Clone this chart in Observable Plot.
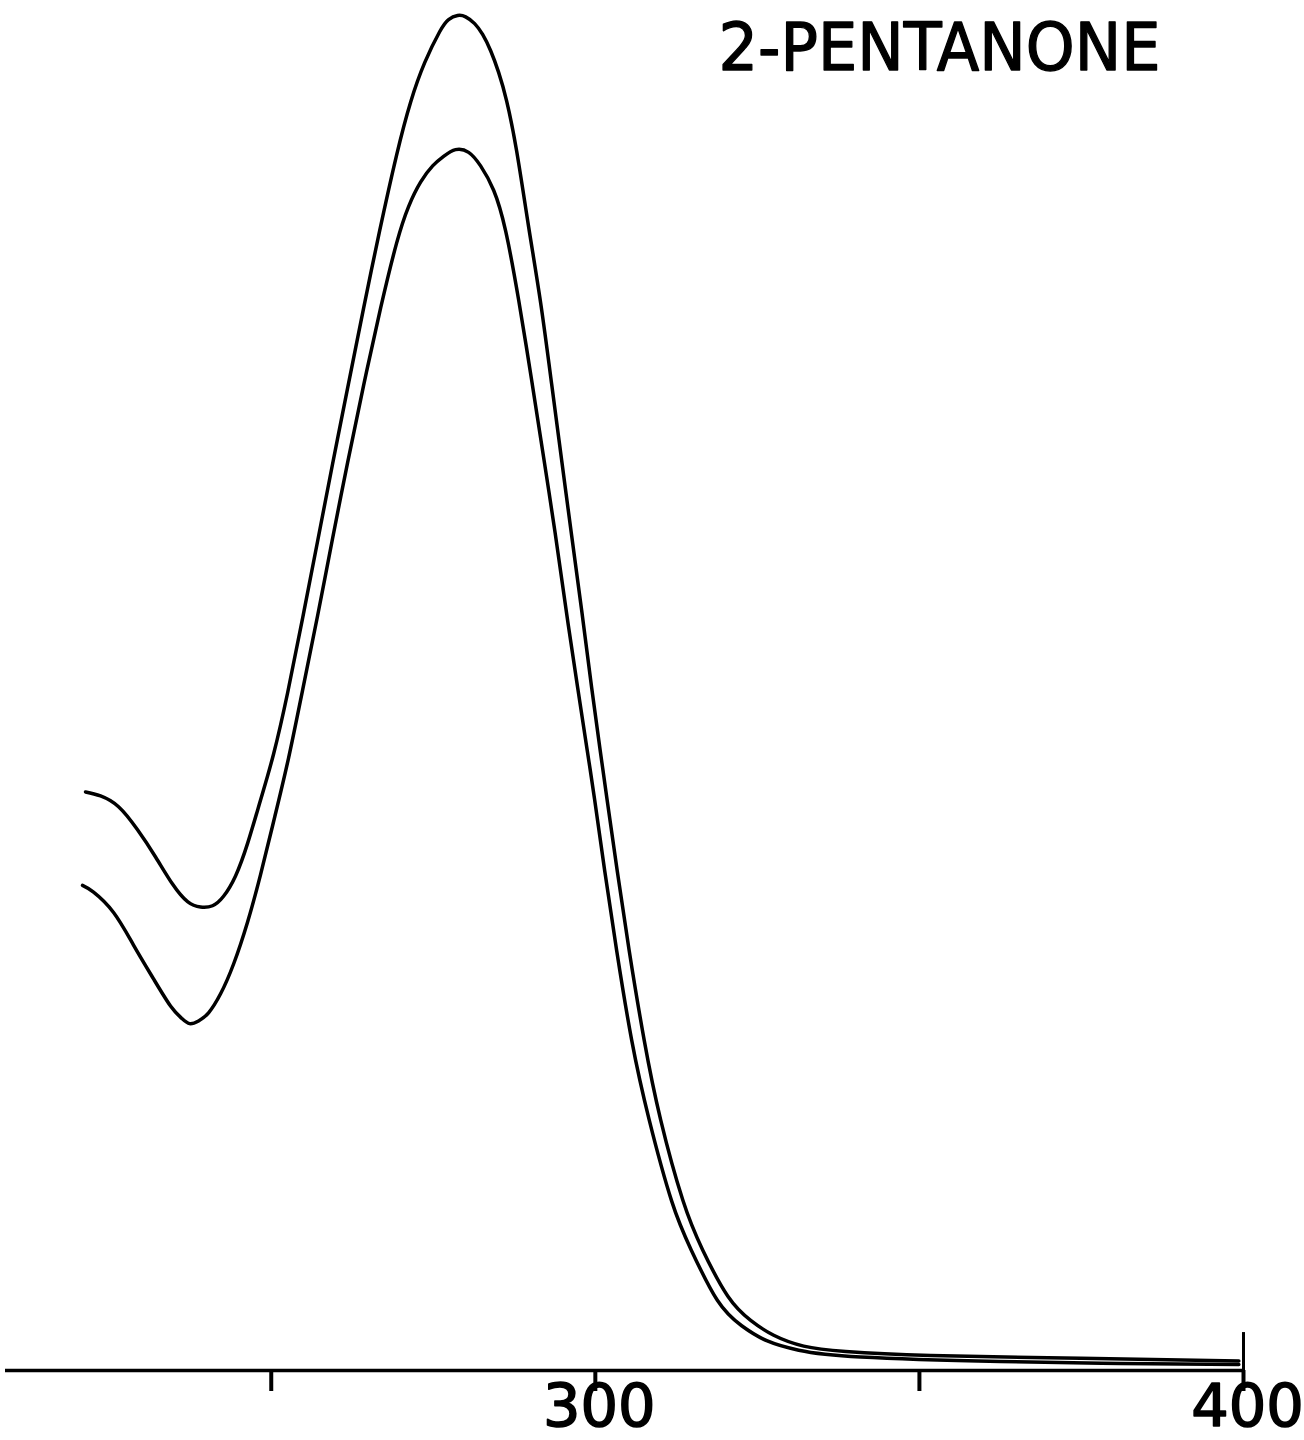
<!DOCTYPE html>
<html>
<head>
<meta charset="utf-8">
<script src="https://cdn.jsdelivr.net/npm/d3@7"></script>
<script src="https://cdn.jsdelivr.net/npm/@observablehq/plot@0.6"></script>
<style>
  html, body { margin: 0; padding: 0; background: #fff; }
  #chart svg { display: block; }
</style>
</head>
<body>
<div id="chart"></div>
<script>
// UV absorption spectrum of 2-pentanone: two traces, wavelength (nm) vs absorbance.
const title = "2-PENTANONE";

// Upper trace
const wavelengthUpper = [
  221.35, 223.66, 226.44, 229.37, 232.15, 234.77, 237.09, 239.09, 240.94, 242.64,
  244.49, 246.35, 248.35, 250.36, 252.52, 254.83, 257.15, 259.46, 261.78, 264.25,
  266.72, 269.34, 271.50, 273.66, 275.98, 277.36, 278.75, 279.99, 281.38, 282.61,
  283.85, 285.08, 286.31, 287.86, 289.71, 291.56, 293.26, 294.80, 296.35, 297.89,
  299.43, 300.74, 301.82, 303.37, 305.22, 307.53, 310.08, 313.48, 316.56, 320.42,
  323.97, 327.52, 332.15, 338.63, 351.75, 374.89, 399.28
];
const absorbanceUpper = [
  0.427, 0.424, 0.416, 0.399, 0.379, 0.359, 0.346, 0.342, 0.343, 0.350,
  0.365, 0.389, 0.421, 0.455, 0.500, 0.555, 0.612, 0.669, 0.725, 0.784,
  0.841, 0.897, 0.936, 0.965, 0.988, 0.997, 1.000, 0.999, 0.994, 0.986,
  0.974, 0.958, 0.937, 0.900, 0.844, 0.788, 0.728, 0.672, 0.616, 0.561,
  0.504, 0.458, 0.421, 0.369, 0.310, 0.244, 0.185, 0.126, 0.089, 0.055,
  0.037, 0.026, 0.018, 0.014, 0.011, 0.009, 0.007
];

// Lower trace
const wavelengthLower = [
  220.88, 222.58, 225.67, 228.75, 231.84, 234.46, 236.16, 237.40, 238.78, 240.33,
  242.18, 244.19, 246.35, 248.35, 250.51, 252.67, 254.83, 257.15, 259.46, 261.78,
  264.25, 266.87, 269.34, 271.19, 273.04, 274.90, 276.59, 278.44, 280.45, 282.30,
  284.31, 286.16, 288.17, 290.17, 292.02, 293.80, 295.50, 297.27, 298.74, 299.90,
  301.44, 303.29, 305.60, 308.31, 311.78, 314.79, 318.80, 322.58, 326.44, 331.38,
  340.94, 362.55, 381.07, 399.28
];
const absorbanceLower = [
  0.358, 0.353, 0.338, 0.314, 0.289, 0.269, 0.260, 0.256, 0.258, 0.264,
  0.278, 0.300, 0.331, 0.366, 0.408, 0.452, 0.502, 0.557, 0.614, 0.670,
  0.727, 0.784, 0.832, 0.859, 0.877, 0.889, 0.896, 0.901, 0.899, 0.889,
  0.871, 0.841, 0.790, 0.731, 0.674, 0.618, 0.561, 0.504, 0.458, 0.421,
  0.369, 0.310, 0.244, 0.185, 0.125, 0.089, 0.052, 0.033, 0.022, 0.015,
  0.010, 0.0066, 0.0052, 0.0044
];

// Axis ticks and labelled ticks
const tickValues = [250, 300, 350, 400];
const labelValues = [300, 400];
const labelText = ["300", "400"];

const upper = wavelengthUpper.map((nm, i) => ({nm, a: absorbanceUpper[i]}));
const lower = wavelengthLower.map((nm, i) => ({nm, a: absorbanceLower[i]}));
const labels = labelValues.map((nm, i) => ({nm, text: labelText[i]}));

const font = "'DejaVu Sans', 'Liberation Sans', sans-serif";

const chart = Plot.plot({
  width: 1304,
  height: 1440,
  marginLeft: 5,
  marginRight: 61,
  marginTop: 15,
  marginBottom: 70,
  style: {background: "#fff", fontFamily: font},
  x: {domain: [209, 400], axis: null},
  y: {domain: [0, 1], axis: null},
  marks: [
    // baseline
    Plot.ruleY([0], {stroke: "#000", strokeWidth: 3.5}),
    // downward ticks
    Plot.axisX({
      ticks: tickValues,
      tickSize: 21,
      tickFormat: () => "",
      label: null,
      stroke: "#000",
      strokeWidth: 4,
      anchor: "bottom"
    }),
    // upward end-of-scale mark at 400 nm
    Plot.ruleX([400], {y1: 0, y2: 0.028, stroke: "#000", strokeWidth: 3}),
    // spectra
    Plot.line(upper, {x: "nm", y: "a", curve: "natural", stroke: "#000", strokeWidth: 3.5}),
    Plot.line(lower, {x: "nm", y: "a", curve: "natural", stroke: "#000", strokeWidth: 3.5}),
    // tick labels
    Plot.text(labels, {
      x: "nm",
      text: "text",
      frameAnchor: "bottom",
      lineAnchor: "top",
      dy: 14,
      dx: 4,
      fontSize: 59,
      fill: "#000",
      stroke: "#000",
      strokeWidth: 1.6,
      fontFamily: font
    }),
    // compound name
    Plot.text([title], {
      frameAnchor: "top-left",
      textAnchor: "start",
      lineAnchor: "top",
      dx: 713,
      dy: 8,
      fontSize: 66,
      fill: "#000",
      stroke: "#000",
      strokeWidth: 1.4,
      fontFamily: font
    })
  ]
});

document.getElementById("chart").append(chart);

// fit the name to its lettered width
d3.select(chart).selectAll("text")
  .filter(function() { return this.textContent === title; })
  .attr("textLength", 442)
  .attr("lengthAdjust", "spacingAndGlyphs");
</script>
</body>
</html>
